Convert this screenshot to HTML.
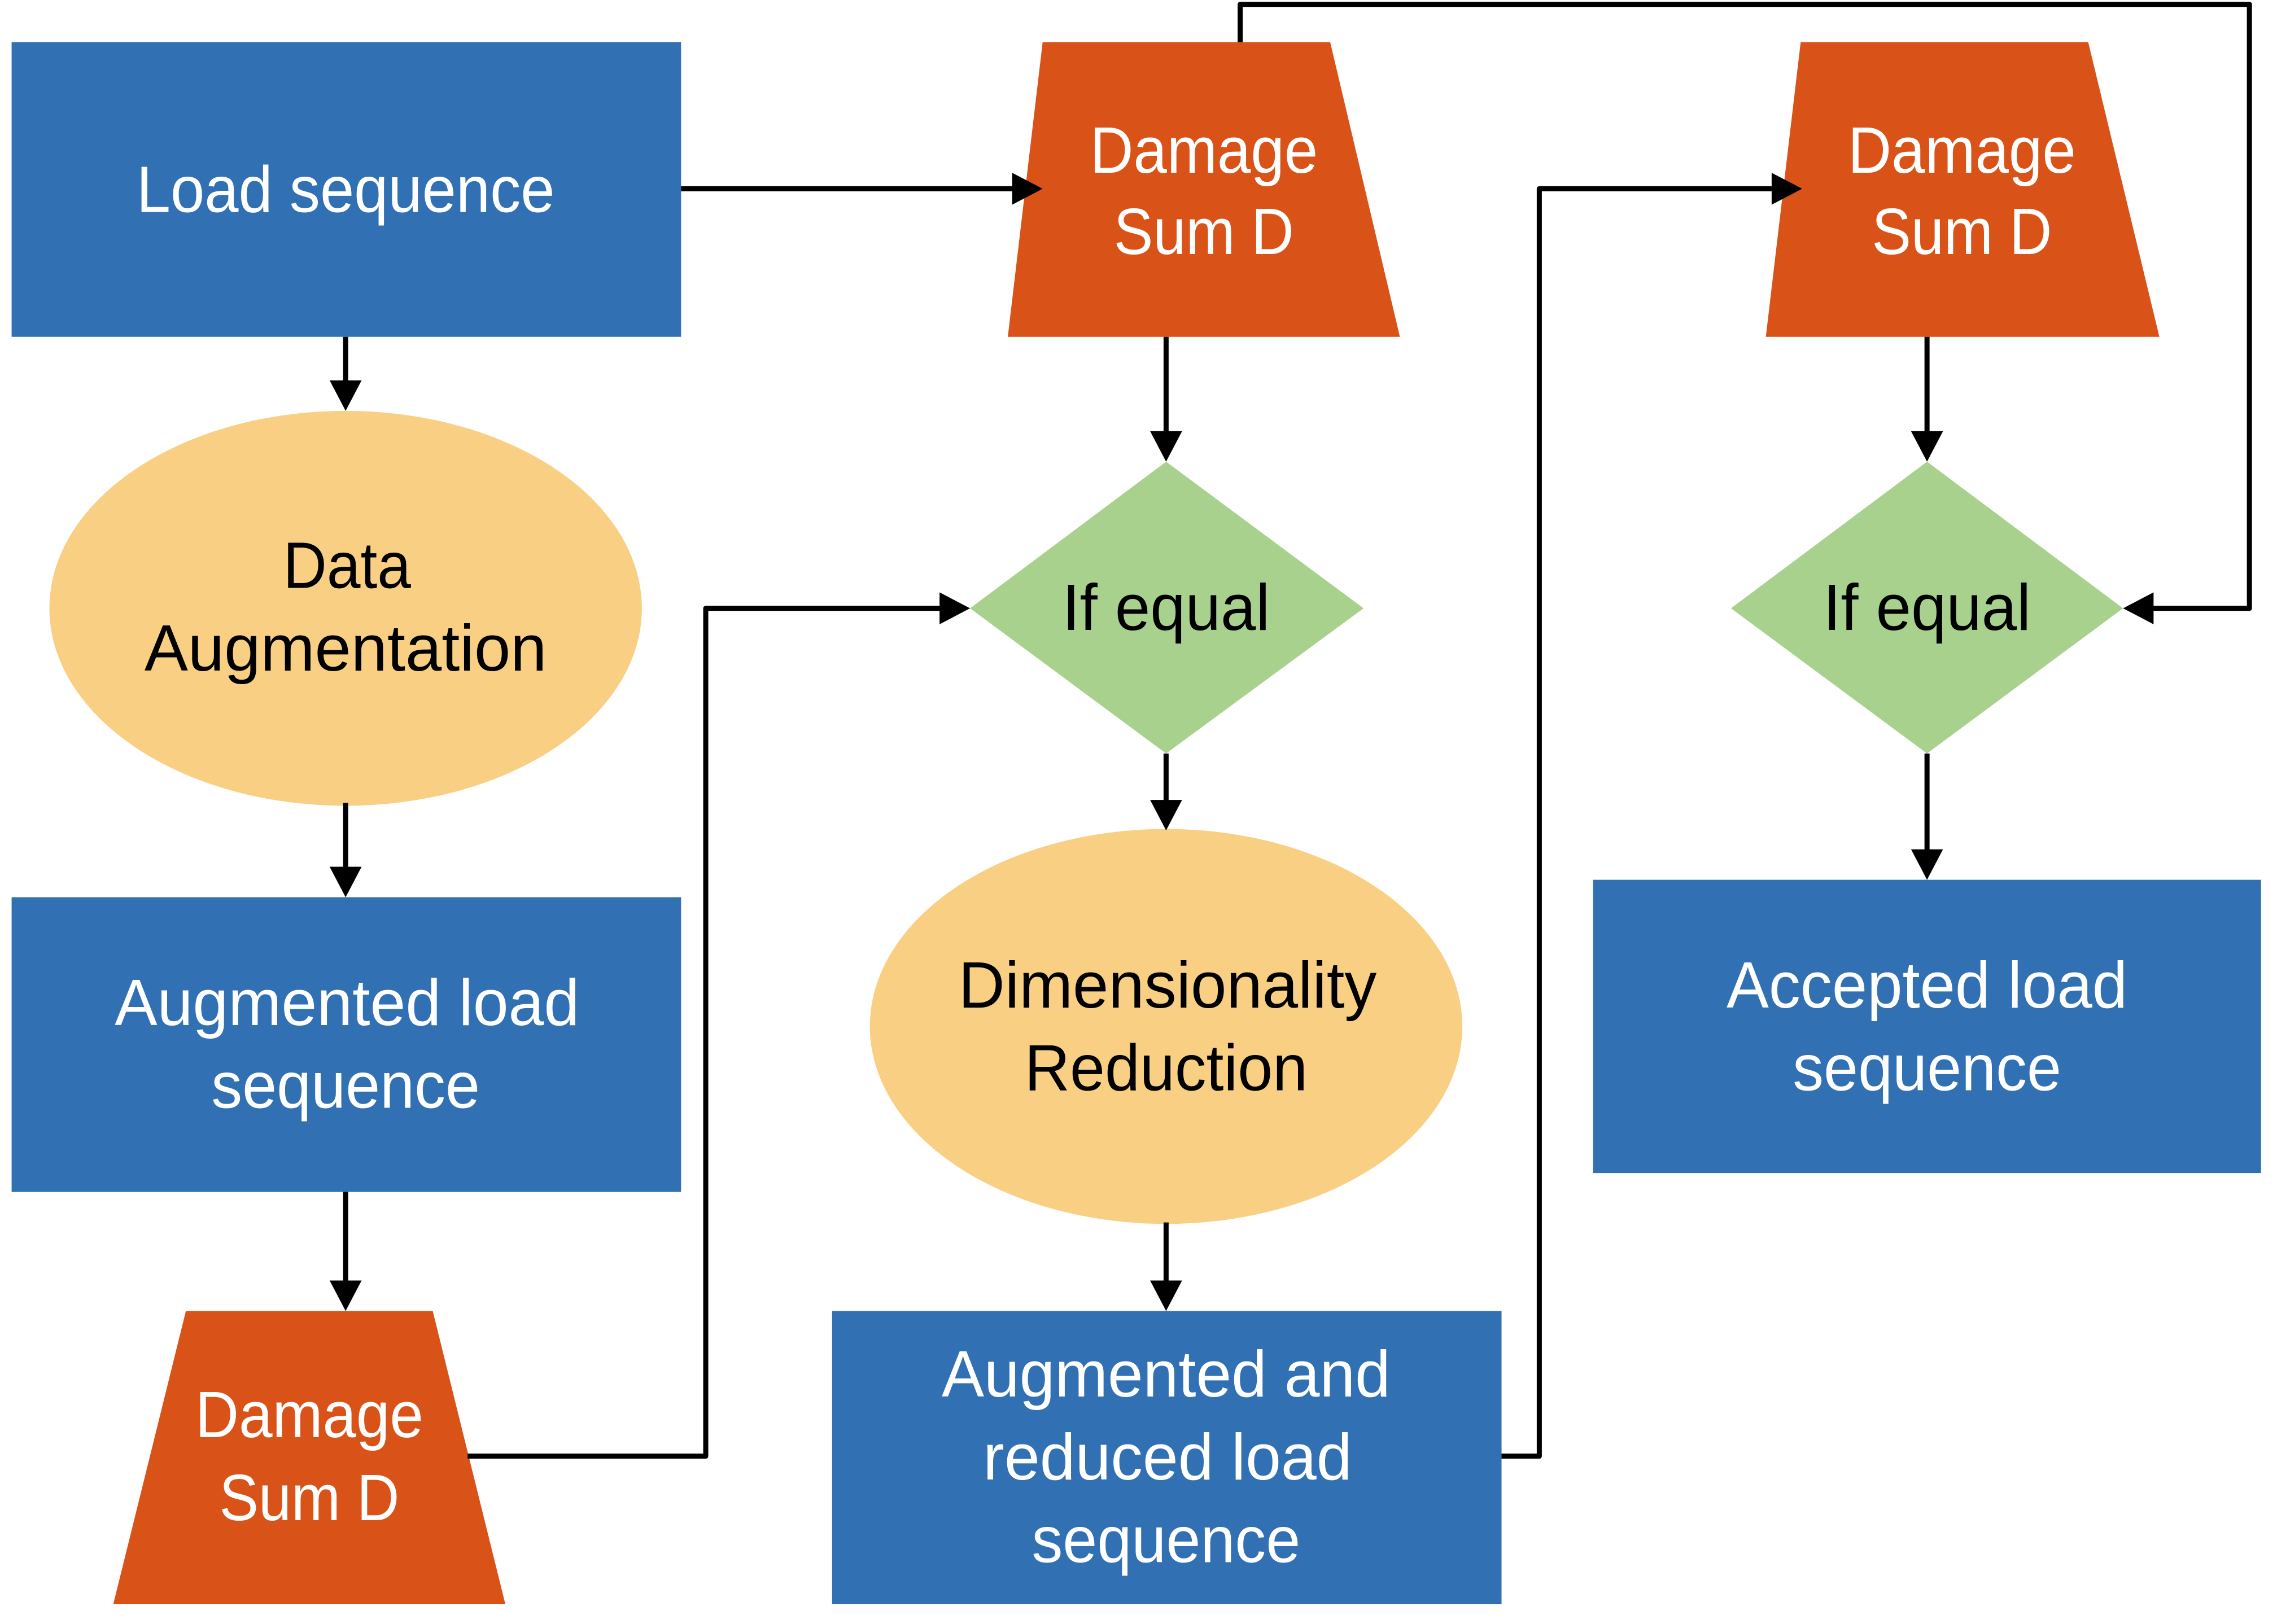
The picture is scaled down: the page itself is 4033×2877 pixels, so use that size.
<!DOCTYPE html>
<html><head><meta charset="utf-8"><style>
html,body{margin:0;padding:0;background:#fff;}
svg{display:block;}
text{font-family:"Liberation Sans",sans-serif;font-size:45px;text-anchor:middle;}
.w{fill:#fff}.b{fill:#000}
</style></head><body>
<svg width="4033" height="2877" viewBox="0 0 1568 1118.6" preserveAspectRatio="none" xmlns="http://www.w3.org/2000/svg">
<rect x="8" y="29" width="461" height="203" fill="#3070B3"/>
<rect x="8" y="618" width="461" height="203" fill="#3070B3"/>
<rect x="573" y="903" width="461" height="202" fill="#3070B3"/>
<rect x="1097" y="606" width="460" height="202" fill="#3070B3"/>
<polygon points="718,29 916,29 964,232 694,232" fill="#D95319"/>
<polygon points="1240,29 1438,29 1487,232 1216,232" fill="#D95319"/>
<polygon points="128,903 298,903 348,1105 78,1105" fill="#D95319"/>
<ellipse cx="238" cy="419" rx="204" ry="136" fill="#F8CF83"/>
<ellipse cx="803" cy="707" rx="204" ry="136" fill="#F8CF83"/>
<polygon points="803,318 939,419 803,519 668,419" fill="#A9D18E"/>
<polygon points="1327,318 1462,419 1327,519 1192,419" fill="#A9D18E"/>
<g fill="none" stroke="#000" stroke-width="3.5" stroke-linejoin="round">
<path d="M469 130H698"/>
<path d="M238 232V263"/>
<path d="M238 553V598"/>
<path d="M238 821V883"/>
<path d="M803 232V298"/>
<path d="M803 519V552"/>
<path d="M803 842V883"/>
<path d="M1327 232V298"/>
<path d="M1327 519V586"/>
<path d="M322 1003H486V419H648"/>
<path d="M1034 1003H1060V130H1220"/>
<path d="M854 29V3H1549V419H1482"/>
</g>
<g fill="#000">
<path d="M718 130l-21-11v22z"/>
<path d="M238 283l-11-21h22z"/>
<path d="M238 618l-11-21h22z"/>
<path d="M238 903l-11-21h22z"/>
<path d="M803 318l-11-21h22z"/>
<path d="M803 572l-11-21h22z"/>
<path d="M803 903l-11-21h22z"/>
<path d="M1327 318l-11-21h22z"/>
<path d="M1327 606l-11-21h22z"/>
<path d="M668 419l-21-11v22z"/>
<path d="M1241 130l-21-11v22z"/>
<path d="M1462 419l21-11v22z"/>
</g>
<text class="w" x="238" y="146" textLength="288" lengthAdjust="spacingAndGlyphs">Load sequence</text>
<text class="w" x="829" y="119" textLength="157" lengthAdjust="spacingAndGlyphs">Damage</text>
<text class="w" x="829" y="175" textLength="124" lengthAdjust="spacingAndGlyphs">Sum D</text>
<text class="w" x="1351" y="119" textLength="157" lengthAdjust="spacingAndGlyphs">Damage</text>
<text class="w" x="1351" y="175" textLength="124" lengthAdjust="spacingAndGlyphs">Sum D</text>
<text class="w" x="213" y="990" textLength="157" lengthAdjust="spacingAndGlyphs">Damage</text>
<text class="w" x="213" y="1047" textLength="124" lengthAdjust="spacingAndGlyphs">Sum D</text>
<text class="b" x="239" y="405" textLength="88" lengthAdjust="spacingAndGlyphs">Data</text>
<text class="b" x="238" y="462" textLength="277" lengthAdjust="spacingAndGlyphs">Augmentation</text>
<text class="b" x="803" y="434" textLength="143" lengthAdjust="spacingAndGlyphs">If equal</text>
<text class="b" x="1327" y="434" textLength="143" lengthAdjust="spacingAndGlyphs">If equal</text>
<text class="w" x="239" y="706" textLength="320" lengthAdjust="spacingAndGlyphs">Augmented load</text>
<text class="w" x="238" y="763" textLength="185" lengthAdjust="spacingAndGlyphs">sequence</text>
<text class="b" x="804" y="694" textLength="288" lengthAdjust="spacingAndGlyphs">Dimensionality</text>
<text class="b" x="803" y="751" textLength="195" lengthAdjust="spacingAndGlyphs">Reduction</text>
<text class="w" x="1327" y="694" textLength="276" lengthAdjust="spacingAndGlyphs">Accepted load</text>
<text class="w" x="1327" y="751" textLength="185" lengthAdjust="spacingAndGlyphs">sequence</text>
<text class="w" x="803" y="962" textLength="309" lengthAdjust="spacingAndGlyphs">Augmented and</text>
<text class="w" x="804" y="1019" textLength="254" lengthAdjust="spacingAndGlyphs">reduced load</text>
<text class="w" x="803" y="1076" textLength="185" lengthAdjust="spacingAndGlyphs">sequence</text>
</svg>
</body></html>
